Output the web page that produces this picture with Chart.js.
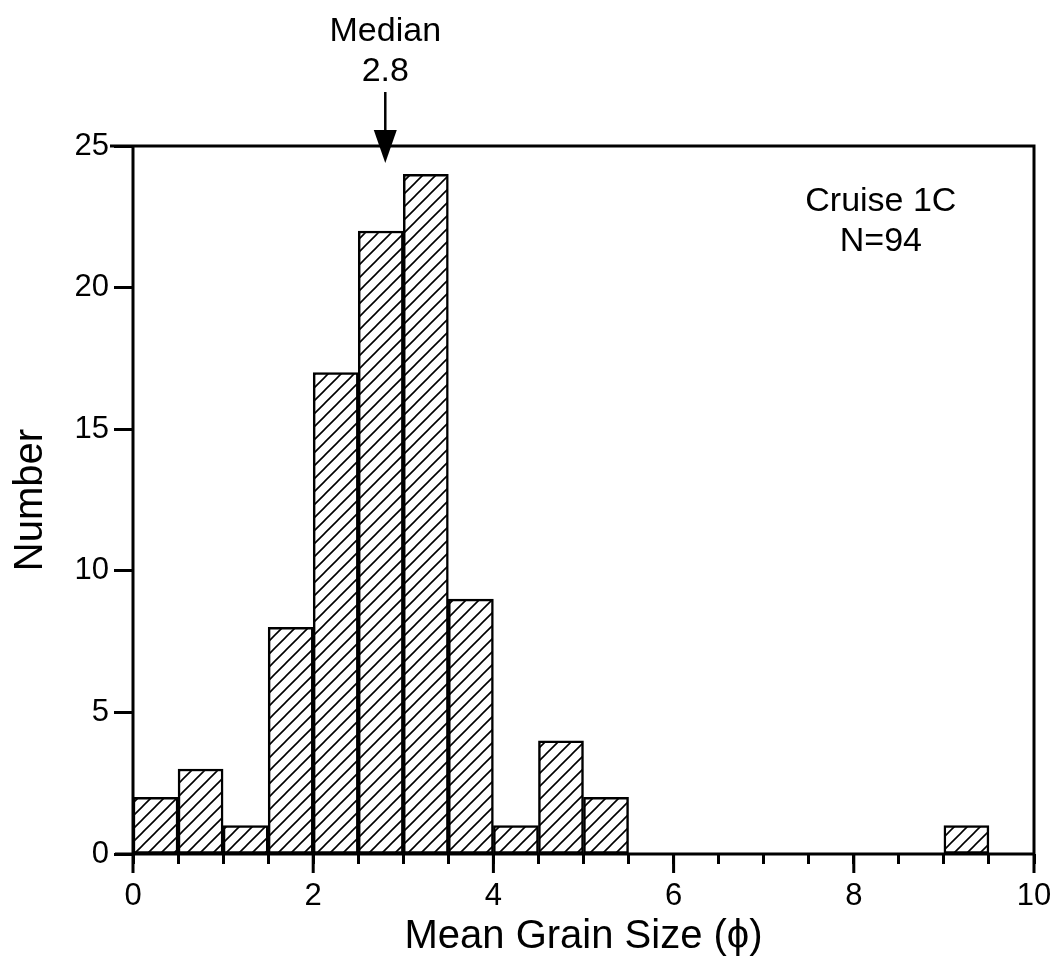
<!DOCTYPE html>
<html>
<head>
<meta charset="utf-8">
<script src="https://cdn.jsdelivr.net/npm/chart.js@4/dist/chart.umd.min.js"></script>
<style>
  html, body { margin: 0; padding: 0; background: #fff; overflow: hidden; }
  #wrap { width: 1051px; height: 969px; }
  canvas { display: block; }
</style>
</head>
<body>
<div id="wrap"><canvas id="grafico"></canvas></div>
<script>
// Dados do histograma (classes de 0.5 phi)
const binStarts = [0, 0.5, 1, 1.5, 2, 2.5, 3, 3.5, 4, 4.5, 5, 5.5, 6, 6.5, 7, 7.5, 8, 8.5, 9, 9.5];
const counts    = [2, 3, 1, 8, 17, 22, 24, 9, 1, 4, 2, 0, 0, 0, 0, 0, 0, 0, 1, 0];
const binWidth = 0.5;
const yTicks = [0, 5, 10, 15, 20, 25];
const xLabelValues = [0, 2, 4, 6, 8, 10];
const medianValue = 2.8;
const medianLabel = ['Median', '2.8'];
const infoLabel = ['Cruise 1C', 'N=94'];

const FONT = '"Liberation Sans", Arial, Helvetica, sans-serif';

// Padrão hachurado "/"
function makeHatch() {
    const s = 13;
    const c = document.createElement('canvas');
    c.width = s; c.height = s;
    const g = c.getContext('2d');
    g.fillStyle = '#fff';
    g.fillRect(0, 0, s, s);
    g.strokeStyle = '#000';
    g.lineWidth = 1.6;
    g.beginPath();
    g.moveTo(-2, s + 2); g.lineTo(s + 2, -2);
    g.moveTo(-2, 2); g.lineTo(2, -2);
    g.moveTo(s - 2, s + 2); g.lineTo(s + 2, s - 2);
    g.stroke();
    return g.createPattern(c, 'repeat');
}

// Moldura, ticks maiores e anotações
const framePlugin = {
    id: 'frame',
    afterDraw(chart) {
        const ctx = chart.ctx;
        const a = chart.chartArea;
        const xs = chart.scales.x;
        ctx.save();
        ctx.strokeStyle = '#000';
        ctx.lineWidth = 3;
        ctx.lineCap = 'butt';
        ctx.beginPath();
        // topo
        ctx.moveTo(a.left - 23, a.top); ctx.lineTo(a.right + 1.5, a.top);
        // direita
        ctx.moveTo(a.right, a.top); ctx.lineTo(a.right, a.bottom);
        // esquerda
        ctx.moveTo(a.left, a.top); ctx.lineTo(a.left, a.bottom);
        // base
        ctx.moveTo(a.left - 18, a.bottom); ctx.lineTo(a.right + 1.5, a.bottom);
        // ticks maiores no eixo x
        xLabelValues.forEach(v => {
            const px = xs.getPixelForValue(v);
            ctx.moveTo(px, a.bottom); ctx.lineTo(px, a.bottom + 19);
        });
        ctx.stroke();

        // seta da mediana
        const mx = xs.getPixelForValue(medianValue);
        ctx.fillStyle = '#000';
        ctx.font = '34px ' + FONT;
        ctx.textAlign = 'center';
        ctx.textBaseline = 'alphabetic';
        ctx.fillText(medianLabel[0], mx, 41);
        ctx.fillText(medianLabel[1], mx, 81);
        ctx.lineWidth = 2.5;
        ctx.beginPath();
        ctx.moveTo(mx, 92); ctx.lineTo(mx, 132);
        ctx.stroke();
        ctx.beginPath();
        ctx.moveTo(mx - 11.5, 130); ctx.lineTo(mx + 11.5, 130); ctx.lineTo(mx, 163);
        ctx.closePath();
        ctx.fill();

        // texto do cruzeiro
        const cx = xs.getPixelForValue(8.3);
        ctx.fillText(infoLabel[0], cx, 211);
        ctx.fillText(infoLabel[1], cx, 251);
        ctx.restore();
    }
};

const hatch = makeHatch();

new Chart(document.getElementById('grafico'), {
    type: 'bar',
    data: {
        datasets: [{
            data: binStarts.map((s, i) => ({ x: s + binWidth / 2, y: counts[i] })),
            backgroundColor: hatch,
            borderColor: '#000',
            borderWidth: 2.5,
            borderSkipped: false,
            barPercentage: 1,
            categoryPercentage: 1,
            grouped: false
        }]
    },
    options: {
        responsive: true,
        maintainAspectRatio: false,
        animation: false,
        layout: { padding: { top: 146, right: 17, left: 0, bottom: 0 } },
        plugins: { legend: { display: false }, tooltip: { enabled: false } },
        scales: {
            x: {
                type: 'linear',
                min: 0,
                max: 10,
                offset: false,
                border: { display: false },
                grid: {
                    offset: false,
                    drawOnChartArea: false,
                    drawTicks: true,
                    tickLength: 10,
                    tickWidth: 3,
                    tickColor: '#000'
                },
                ticks: {
                    stepSize: 0.5,
                    autoSkip: false,
                    maxRotation: 0,
                    padding: 14,
                    color: '#000',
                    font: { family: FONT, size: 31 },
                    callback: v => xLabelValues.includes(v) ? String(v) : ''
                },
                title: {
                    display: true,
                    text: 'Mean Grain Size (\u03d5)',
                    color: '#000',
                    font: { family: FONT, size: 40 },
                    padding: { top: 0, bottom: 8 }
                },
                afterFit: s => {
                    s.height = 115;
                    s.paddingLeft = 0;
                    s.paddingRight = 0;
                }
            },
            y: {
                min: 0,
                max: 25,
                border: { display: false },
                grid: {
                    drawOnChartArea: false,
                    drawTicks: true,
                    tickLength: 19,
                    tickWidth: 3,
                    tickColor: '#000'
                },
                afterBuildTicks: s => { s.ticks = yTicks.map(v => ({ value: v })); },
                ticks: {
                    padding: 5,
                    color: '#000',
                    font: { family: FONT, size: 31 }
                },
                title: {
                    display: true,
                    text: 'Number',
                    color: '#000',
                    font: { family: FONT, size: 40 },
                    padding: { top: 7, bottom: 0 }
                },
                afterFit: s => { s.width = 133; }
            }
        }
    },
    plugins: [framePlugin]
});
</script>
</body>
</html>
